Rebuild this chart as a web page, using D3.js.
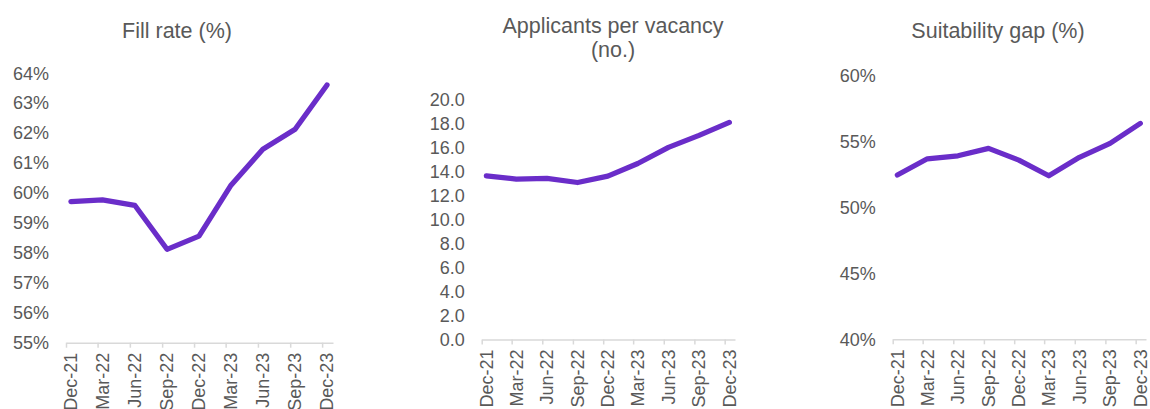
<!DOCTYPE html>
<html>
<head>
<meta charset="utf-8">
<script src="https://cdn.jsdelivr.net/npm/d3@7"></script>
<style>
  html, body { margin: 0; padding: 0; background: #fff; }
  svg { display: block; font-family: Arial, "Liberation Sans", sans-serif; }
</style>
</head>
<body>
<div id="chart"></div>
<script>
// Labour market panels: fill rate, applicants per vacancy, suitability gap

const quarters = ["Dec-21", "Mar-22", "Jun-22", "Sep-22", "Dec-22", "Mar-23", "Jun-23", "Sep-23", "Dec-23"];
const fillRate = [59.71, 59.77, 59.59, 58.12, 58.56, 60.24, 61.46, 62.13, 63.61];
const applicantsPerVacancy = [13.67, 13.39, 13.45, 13.11, 13.64, 14.7, 16.04, 17.05, 18.13];
const suitabilityGap = [52.48, 53.71, 53.94, 54.5, 53.61, 52.42, 53.82, 54.88, 56.4];

const fillTicks = [55, 56, 57, 58, 59, 60, 61, 62, 63, 64];
const applicantTicks = [0, 2, 4, 6, 8, 10, 12, 14, 16, 18, 20];
const gapTicks = [40, 45, 50, 55, 60];

const LINE_COLOR = "#6a2dc9";
const AXIS_COLOR = "#d9d9d9";
const TEXT_COLOR = "#595959";

const width = 1150, height = 409;

const parseQ = d3.timeParse("%b-%y");
// ticks sit on the first of the month, data points mid-month
const tickDates = quarters.map(parseQ);
const pointDates = tickDates.map(d => d3.timeDay.offset(d, 14));
const xDomain = [tickDates[0], d3.timeMonth.offset(tickDates[tickDates.length - 1], 1)];

const panels = [
  {title: ["Fill rate (%)"], titleX: 177, values: fillRate, ticks: fillTicks,
   fmt: d => d + "%", yDomain: [55, 64], yRange: [342.7, 73.3], xRange: [66, 333]},
  {title: ["Applicants per vacancy", "(no.)"], titleX: 613, values: applicantsPerVacancy, ticks: applicantTicks,
   fmt: d3.format(".1f"), yDomain: [0, 20], yRange: [339.5, 100], xRange: [481.7, 735]},
  {title: ["Suitability gap (%)"], titleX: 998, values: suitabilityGap, ticks: gapTicks,
   fmt: d => d + "%", yDomain: [40, 60], yRange: [339.3, 76], xRange: [892.7, 1146]}
];

const svg = d3.select("#chart").append("svg")
  .attr("width", width)
  .attr("height", height);

panels.forEach(p => {
  const g = svg.append("g");

  const x = d3.scaleTime().domain(xDomain).range(p.xRange);
  const y = d3.scaleLinear().domain(p.yDomain).range(p.yRange);

  // title (one or two lines)
  g.append("text")
    .attr("x", p.titleX)
    .attr("y", p.title.length > 1 ? 33 : 37.5)
    .attr("text-anchor", "middle")
    .attr("fill", TEXT_COLOR)
    .style("font-size", "21.5px")
    .selectAll("tspan")
    .data(p.title)
    .join("tspan")
    .attr("x", p.titleX)
    .attr("dy", (d, i) => i === 0 ? 0 : 24)
    .text(d => d);

  // y axis: labels only, no line
  const yAxis = g.append("g")
    .attr("transform", `translate(${p.xRange[0] - 1},0)`)
    .call(d3.axisLeft(y).tickValues(p.ticks).tickFormat(p.fmt).tickSize(0).tickPadding(16));
  yAxis.select(".domain").remove();
  yAxis.selectAll("text")
    .attr("fill", TEXT_COLOR)
    .style("font-size", "18px")
    .style("font-family", "Arial, 'Liberation Sans', sans-serif");

  // x axis
  const base = y(p.yDomain[0]);
  const xAxis = g.append("g")
    .attr("transform", `translate(0,${base})`)
    .call(d3.axisBottom(x).tickValues(tickDates).tickSizeInner(5).tickSizeOuter(0).tickFormat(""));
  xAxis.select(".domain").attr("stroke", AXIS_COLOR).attr("stroke-width", 1.5);
  xAxis.selectAll(".tick line").attr("stroke", AXIS_COLOR).attr("stroke-width", 1.5);

  // rotated category labels under the data points
  g.append("g")
    .selectAll("text")
    .data(quarters)
    .join("text")
    .attr("transform", (d, i) => `translate(${x(pointDates[i])},${base + 10}) rotate(-90)`)
    .attr("dy", "0.35em")
    .attr("text-anchor", "end")
    .attr("fill", TEXT_COLOR)
    .style("font-size", "18px")
    .text(d => d);

  // series line
  g.append("path")
    .datum(p.values)
    .attr("fill", "none")
    .attr("stroke", LINE_COLOR)
    .attr("stroke-width", 5.25)
    .attr("stroke-linecap", "round")
    .attr("stroke-linejoin", "round")
    .attr("d", d3.line()
      .x((d, i) => x(pointDates[i]))
      .y(d => y(d)));
});
</script>
</body>
</html>
